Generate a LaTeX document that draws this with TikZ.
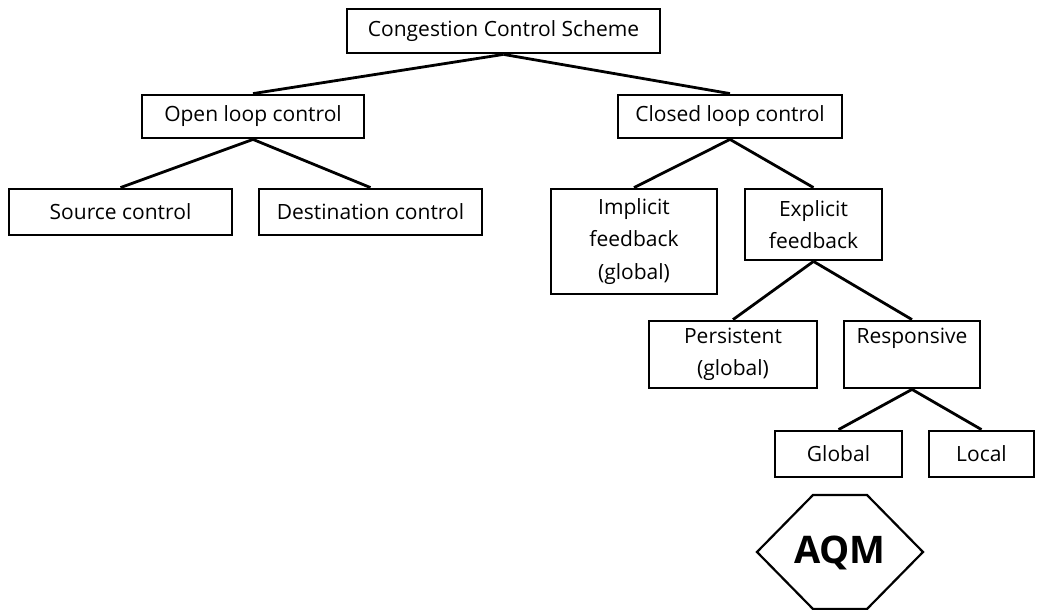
\documentclass[tikz,border=0pt]{standalone}
\usepackage{fontspec}
\setmainfont{Open Sans}
\begin{document}
\begin{tikzpicture}[x=1pt,y=-1pt,
  box/.style={draw=black, line width=2.8pt, fill=white, rectangle, inner sep=0pt,
    align=center, font=\fontsize{21}{32.5}\selectfont},
  link/.style={draw=black, line width=2.8pt}]
\useasboundingbox (0,0) rectangle (1037,610);

% tree of control schemes
\node[box, minimum width=313pt, minimum height=44pt] (ccs) at (503.5,31) {Congestion Control Scheme};
\node[box, minimum width=222pt, minimum height=43pt] (open) at (253,116.5) {Open loop control};
\node[box, minimum width=224pt, minimum height=43pt] (closed) at (730,116.5) {Closed loop control};
\node[box, minimum width=223pt, minimum height=46pt] (source) at (120.5,212) {Source control};
\node[box, minimum width=223pt, minimum height=46pt] (dest) at (370.5,212) {Destination control};
\node[box, minimum width=166pt, minimum height=105pt] (implicit) at (634,241.5) {Implicit\\feedback\\(global)};
\node[box, minimum width=137pt, minimum height=71pt] (explicit) at (813.5,224.5) {Explicit\\feedback};
\node[box, minimum width=168pt, minimum height=67pt] (persist) at (733,354.5) {Persistent\\(global)};
\node[box, minimum width=136pt, minimum height=67pt] (resp) at (912,354.5) {Responsive\\\phantom{(global)}};
\node[box, minimum width=127pt, minimum height=46pt] (global) at (838.5,454) {Global};
\node[box, minimum width=105pt, minimum height=46pt] (local) at (981.5,454) {Local};

% connectors
\draw[link] (ccs.south) -- (open.north);
\draw[link] (ccs.south) -- (closed.north);
\draw[link] (open.south) -- (source.north);
\draw[link] (open.south) -- (dest.north);
\draw[link] (closed.south) -- (implicit.north);
\draw[link] (closed.south) -- (explicit.north);
\draw[link] (explicit.south) -- (persist.north);
\draw[link] (explicit.south) -- (resp.north);
\draw[link] (resp.south) -- (global.north);
\draw[link] (resp.south) -- (local.north);

% AQM hexagon
\draw[line width=2.2pt, line join=miter] (813,495) -- (867,495) -- (923,552) -- (867,609) -- (813,609) -- (757,552) -- cycle;
\node[font=\fontsize{38}{40}\selectfont\bfseries, inner sep=0pt] (aqm) at (840,553) {AQM};
\end{tikzpicture}
\end{document}
